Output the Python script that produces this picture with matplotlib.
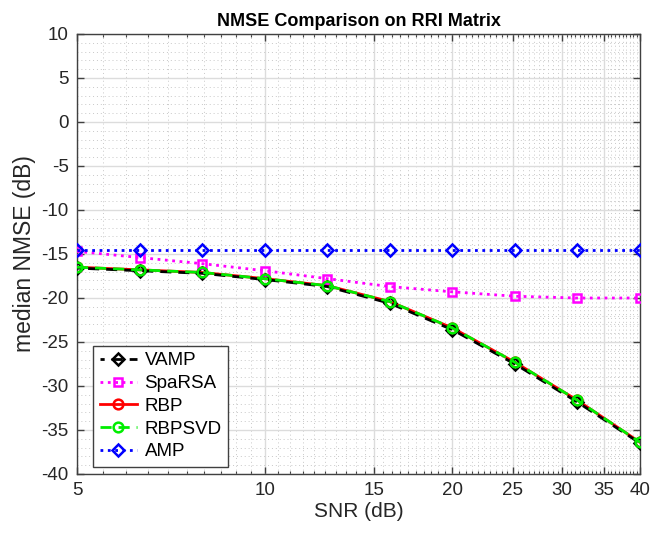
import numpy as np
import matplotlib
matplotlib.use("Agg")
import matplotlib.pyplot as plt
from matplotlib.ticker import FixedLocator, FixedFormatter, MultipleLocator, NullFormatter

plt.rcParams['font.family'] = ['Liberation Sans', 'DejaVu Sans']
plt.rcParams['axes.unicode_minus'] = False

snr = [5.0, 6.30, 7.94, 10.0, 12.6, 15.87, 20.0, 25.2, 31.7, 40.0]
vamp = [-16.6, -16.9, -17.2, -17.9, -18.7, -20.6, -23.6, -27.5, -31.8, -36.5]
sparsa = [-14.7, -15.4, -16.1, -16.9, -17.8, -18.7, -19.3, -19.8, -20.0, -20.0]
rbp = [-16.5, -16.8, -17.1, -17.8, -18.6, -20.4, -23.4, -27.3, -31.6, -36.4]
rbpsvd = [-16.5, -16.8, -17.1, -17.8, -18.6, -20.4, -23.4, -27.3, -31.6, -36.4]
amp = [-14.6, -14.6, -14.6, -14.6, -14.6, -14.6, -14.6, -14.6, -14.6, -14.6]

xticks = [5, 10, 15, 20, 25, 30, 35, 40]
xticklabels = ['5', '10', '15', '20', '25', '30', '35', '40']
yticks = [10, 5, 0, -5, -10, -15, -20, -25, -30, -35, -40]

fig = plt.figure(figsize=(6.54, 5.37), dpi=100)
ax = fig.add_axes([77/654, 1-474/537, (640-77)/654, (474-34)/537])

lw = 2.0
ms = 7
mew = 1.8
ax.plot(snr, rbp, color='red', ls='-', lw=lw, marker='o', ms=ms, mfc='none', mew=mew, label='RBP', zorder=2)
ax.plot(snr, vamp, color='black', ls=(2.5, (4, 2.5)), lw=lw, marker='D', ms=ms-1, mfc='none', mew=mew, label='VAMP', zorder=3)
ax.plot(snr, sparsa, color='#ff00ff', ls=':', lw=lw, marker='s', ms=ms-1, mfc='none', mew=mew, label='SpaRSA', zorder=3)
ax.plot(snr, rbpsvd, color='#00ee00', ls=(0, (4, 2.5)), lw=lw, marker='o', ms=ms, mfc='none', mew=mew, label='RBPSVD', zorder=4)
ax.plot(snr, amp, color='#0000ff', ls=':', lw=lw, marker='D', ms=ms-1, mfc='none', mew=mew, label='AMP', zorder=5)

ax.set_xscale('log')
ax.set_xlim(5, 40)
ax.set_ylim(-40, 10)
ax.xaxis.set_major_locator(FixedLocator(xticks))
ax.xaxis.set_major_formatter(FixedFormatter(xticklabels))
minor_x = [v for v in np.arange(5, 40.01, 0.5) if v not in xticks]
ax.xaxis.set_minor_locator(FixedLocator(minor_x))
ax.xaxis.set_minor_formatter(NullFormatter())
ax.yaxis.set_major_locator(FixedLocator(yticks))
ax.yaxis.set_minor_locator(MultipleLocator(1))

ax.grid(True, which='major', color='#dcdcdc', lw=1.0, ls='-')
ax.grid(True, which='minor', color='#c8c8c8', lw=0.7, ls=(0, (1, 3)))
ax.set_axisbelow(True)

ax.tick_params(which='both', direction='in', top=True, right=True, colors='#404040', labelcolor='#262626', labelsize=13.5)
ax.tick_params(which='major', length=5, width=1)
ax.tick_params(axis='y', which='major', pad=6)
ax.tick_params(axis='x', which='major', pad=6)
ax.tick_params(which='minor', length=2.5, width=0.8)
ax.tick_params(axis='y', which='minor', length=0)
for s in ax.spines.values():
    s.set_color('#404040')
    s.set_linewidth(1.0)

ax.set_xlabel('SNR (dB)', fontsize=15, color='#262626', labelpad=2)
ax.set_ylabel('median NMSE (dB)', fontsize=16.5, color='#262626', labelpad=4)
ax.set_title('NMSE Comparison on RRI Matrix', fontsize=13, fontweight='bold', pad=6)

handles, labels = ax.get_legend_handles_labels()
order = ['VAMP', 'SpaRSA', 'RBP', 'RBPSVD', 'AMP']
hmap = dict(zip(labels, handles))
leg = ax.legend([hmap[k] for k in order], order, loc='lower left', bbox_to_anchor=(16/563, 7/440),
                borderaxespad=0, fontsize=13.5, frameon=True, fancybox=False, framealpha=1,
                edgecolor='#404040', handlelength=2.0, borderpad=0.35, labelspacing=0.3, handletextpad=0.4)
leg.get_frame().set_linewidth(1.0)
leg.set_zorder(10)

fig.savefig('out.png', dpi=100)
